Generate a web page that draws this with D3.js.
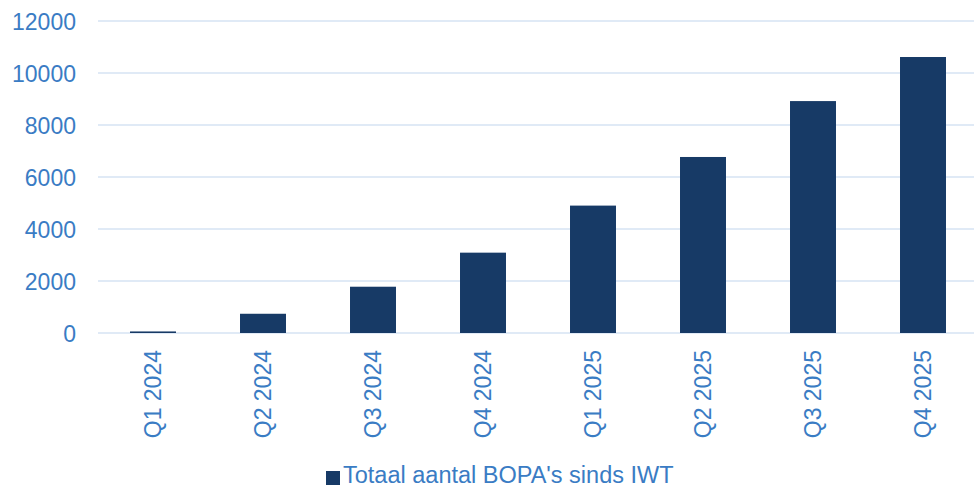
<!DOCTYPE html>
<html><head><meta charset="utf-8">
<script src="https://cdn.jsdelivr.net/npm/d3@7"></script>
<style>body{margin:0;background:#fff}svg{display:block}</style>
</head><body>
<svg id="chart" width="974" height="487"></svg>
<script>
const categories = ["Q1 2024","Q2 2024","Q3 2024","Q4 2024","Q1 2025","Q2 2025","Q3 2025","Q4 2025"];
const values = [60, 740, 1780, 3090, 4900, 6770, 8920, 10615];
const yTicks = [0, 2000, 4000, 6000, 8000, 10000, 12000];
const seriesName = "Totaal aantal BOPA's sinds IWT";

const plotLeft = 98, plotRight = 978, plotTop = 21, plotBottom = 333;
const font = "'Liberation Sans', Arial, sans-serif";
const textColor = "#3a7cc4", barColor = "#173a66", gridColor = "#d6e3f3";

const svg = d3.select("#chart");
const x = d3.scaleBand().domain(categories).range([plotLeft, plotRight]).padding(0);
const y = d3.scaleLinear().domain([0, 12000]).range([plotBottom, plotTop]);
const barW = x.bandwidth() * 0.418;

// gridlines
svg.append("g").selectAll("line").data(yTicks).join("line")
  .attr("x1", plotLeft).attr("x2", plotRight)
  .attr("y1", d => y(d)).attr("y2", d => y(d))
  .attr("stroke", gridColor).attr("stroke-width", 1.5);

// y axis labels
const yAxis = d3.axisLeft(y).tickValues(yTicks).tickSize(0).tickPadding(0).tickFormat(d3.format("d"));
const gy = svg.append("g").attr("transform", `translate(76,0)`).call(yAxis);
gy.select(".domain").remove();
gy.selectAll("text").attr("fill", textColor).style("font-family", font).style("font-size", "23px").attr("dy", "0.35em");

// bars
svg.append("g").selectAll("rect").data(values).join("rect")
  .attr("x", (d, i) => x(categories[i]) + (x.bandwidth() - barW) / 2)
  .attr("width", barW)
  .attr("y", d => y(d))
  .attr("height", d => y(0) - y(d))
  .attr("fill", barColor);

// x axis labels
const xAxis = d3.axisBottom(x).tickSize(0).tickPadding(0);
const gx = svg.append("g").attr("transform", `translate(0,${plotBottom})`).call(xAxis);
gx.select(".domain").remove();
gx.selectAll("text")
  .attr("fill", textColor).style("font-family", font).style("font-size", "23px")
  .attr("text-anchor", "end")
  .attr("transform", "rotate(-90)")
  .attr("x", -17).attr("y", 0).attr("dy", "0.35em");

// legend
const lg = svg.append("g").attr("transform", "translate(326,0)");
lg.append("rect").attr("x", 0).attr("y", 471).attr("width", 14).attr("height", 14).attr("fill", barColor);
lg.append("text").attr("x", 17).attr("y", 483)
  .attr("fill", textColor).style("font-family", font).style("font-size", "23.5px")
  .text(seriesName);
</script>
</body></html>
